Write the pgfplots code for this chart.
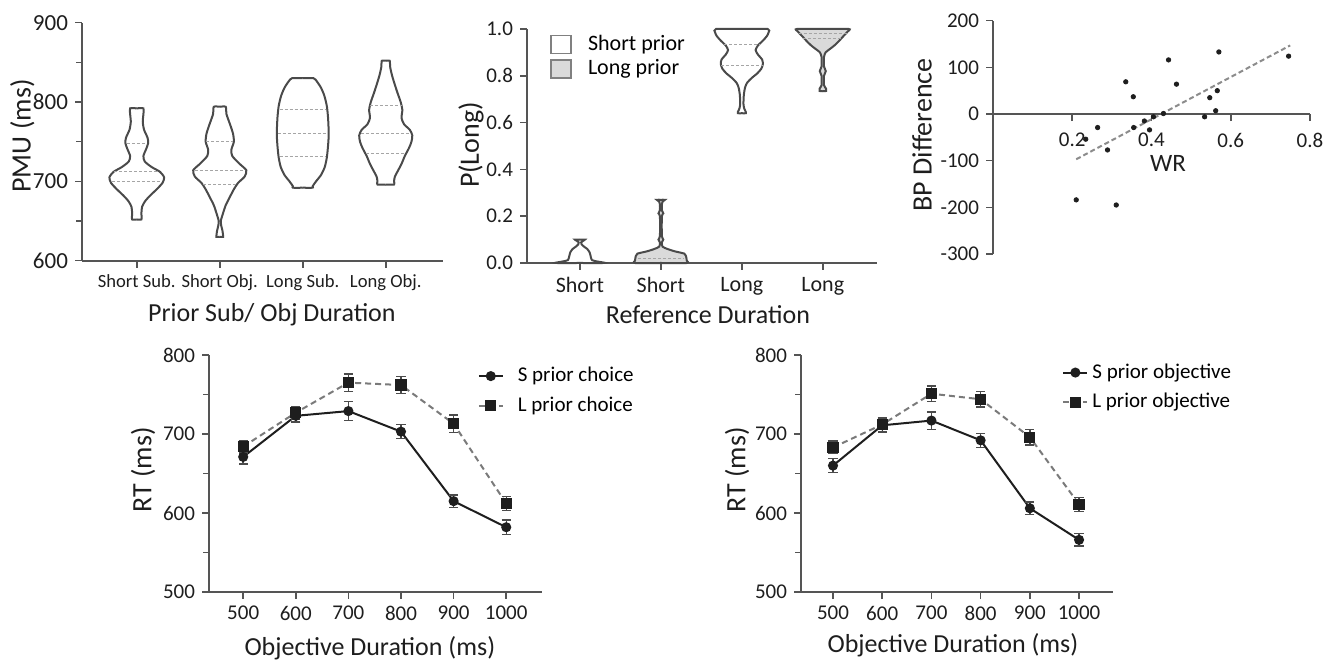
\documentclass[border=0pt]{standalone}
\usepackage{fontspec}
\setmainfont{Carlito}
\usepackage{pgfplots}
\usepackage{pgfplotstable}
\pgfplotsset{compat=1.18}
\usepgfplotslibrary{fillbetween}
\definecolor{axgray}{HTML}{555555}
\definecolor{vline}{HTML}{4A4A4A}
\definecolor{qline}{HTML}{A5A5A5}
\definecolor{vfill}{HTML}{DADADA}
\definecolor{ink}{HTML}{1E1E1E}
\definecolor{fitgray}{HTML}{8C8C8C}
\definecolor{lgray}{HTML}{7A7A7A}

\pgfplotsset{
  panel/.style={
    scale only axis, anchor=south west,
    axis lines=left, axis line style={draw=axgray, line width=1pt, -},
    tick align=outside, major tick length=3.5pt, minor tick length=3pt,
    tick style={draw=axgray, line width=0.8pt},
    /pgf/number format/assume math mode=true,
    /pgf/number format/1000 sep={},
    ticklabel style={font=\fontsize{10.5}{12}\selectfont, color=ink},
    label style={font=\fontsize{14}{16}\selectfont, color=ink},
    clip=false,
  },
  violin/.style={draw=vline, line width=1pt, smooth, tension=0.4, no markers},
  quart/.style={draw=qline, dash pattern=on 1.5pt off 1pt, line width=0.6pt, no markers},
  sline/.style={draw=ink, line width=1pt, mark=*, mark size=2pt, mark options={fill=ink},
    error bars/.cd, y dir=both, y explicit,
    error bar style={draw=ink!80, line width=0.7pt},
    error mark options={rotate=90, mark size=2.3pt, line width=0.7pt, draw=ink!80}},
  lline/.style={draw=lgray, line width=1pt, dash pattern=on 3pt off 2pt, mark=square*, mark size=2.3pt,
    mark options={solid, fill=ink, draw=ink},
    error bars/.cd, y dir=both, y explicit,
    error bar style={draw=ink!80, line width=0.7pt, solid},
    error mark options={rotate=90, mark size=2.3pt, line width=0.7pt, draw=ink!80, solid}},
}

% panel 1 violin profiles: y, half width (category units)
\pgfplotstableread{
y w
792 0
792 0.08
785 0.08
775 0.072
765 0.088
755 0.13
748 0.137
740 0.11
732 0.08
725 0.096
718 0.18
712 0.28
705 0.33
698 0.31
690 0.24
682 0.16
675 0.1
668 0.064
660 0.056
652 0.056
652 0
}\vA
\pgfplotstableread{
y w
794 0
794 0.072
785 0.08
770 0.13
760 0.16
750 0.17
740 0.14
732 0.15
722 0.24
714 0.32
706 0.3
698 0.22
690 0.17
680 0.12
670 0.072
660 0.04
650 0.012
645 0.016
638 0.032
632 0.04
630 0.04
630 0
}\vB
\pgfplotstableread{
y w
830 0
830 0.13
826 0.17
818 0.22
808 0.26
795 0.29
780 0.305
760 0.313
745 0.305
730 0.29
718 0.265
708 0.22
700 0.16
694 0.12
692 0.12
692 0
}\vC
\pgfplotstableread{
y w
852 0
852 0.048
845 0.052
835 0.072
825 0.1
812 0.14
800 0.18
790 0.2
780 0.19
772 0.22
765 0.29
758 0.32
750 0.31
742 0.28
732 0.23
722 0.19
714 0.15
706 0.11
700 0.1
696 0.1
696 0
}\vD

% panel 2 violin profiles
\pgfplotstableread{
y w
0.100 0
0.100 0.062
0.095 0.04
0.088 0.015
0.080 0.02
0.070 0.05
0.060 0.09
0.045 0.12
0.025 0.135
0.012 0.15
0.006 0.22
0.002 0.29
0.000 0.29
0.000 0
}\pA
\pgfplotstableread{
y w
0.270 0
0.270 0.05
0.262 0.02
0.250 0.012
0.225 0.012
0.212 0.03
0.200 0.012
0.115 0.012
0.100 0.03
0.088 0.012
0.070 0.02
0.060 0.08
0.050 0.17
0.040 0.29
0.030 0.31
0.010 0.32
0.000 0.32
0.000 0
}\pB
\pgfplotstableread{
y w
1.000 0
1.000 0.32
0.985 0.33
0.970 0.31
0.950 0.26
0.930 0.2
0.910 0.17
0.890 0.2
0.870 0.25
0.850 0.26
0.830 0.24
0.810 0.19
0.790 0.12
0.770 0.065
0.750 0.04
0.720 0.025
0.680 0.02
0.660 0.03
0.645 0.05
0.640 0.05
0.640 0
}\pC
\pgfplotstableread{
y w
1.000 0
1.000 0.32
0.990 0.31
0.975 0.27
0.960 0.23
0.945 0.19
0.930 0.145
0.915 0.09
0.900 0.035
0.880 0.015
0.840 0.015
0.820 0.037
0.800 0.015
0.760 0.015
0.745 0.04
0.735 0.04
0.735 0
}\pD

% panel 3 scatter
\pgfplotstableread{
x y
0.335 69
0.354 37
0.443 116
0.463 64
0.570 133
0.746 124
0.566 50
0.547 35
0.562 7
0.534 -6
0.430 1
0.382 -15
0.405 -6
0.395 -34
0.355 -29
0.264 -29
0.234 -54
0.289 -77
0.210 -184
0.311 -195
}\scatdata

% panels 4 and 5
\pgfplotstableread{
x y e
500 671 9
600 723 8
700 729 12
800 703 9
900 615 8
1000 582 9
}\Schoice
\pgfplotstableread{
x y e
500 684 8
600 727 8
700 765 11
800 762 11
900 713 11
1000 612 9
}\Lchoice
\pgfplotstableread{
x y e
500 660 9
600 711 9
700 717 11
800 692 9
900 606 8
1000 566 8
}\Sobj
\pgfplotstableread{
x y e
500 683 8
600 712 9
700 751 10
800 744 10
900 696 10
1000 611 9
}\Lobj

\begin{document}
\begin{tikzpicture}

% ---- panel 1
\begin{axis}[panel, at={(41pt,201.15pt)}, width=180.5pt, height=119pt,
  xmin=0.34, xmax=4.69, ymin=600, ymax=900,
  ytick={600,700,800,900}, minor ytick={650,750,850},
  xtick={1,2,3,4}, xticklabels={Short Sub.,Short Obj.,Long Sub.,Long Obj.},
  xticklabel style={font=\fontsize{9.3}{11}\selectfont},
  yticklabel style={font=\fontsize{11.5}{13}\selectfont},
  ylabel={PMU (ms)}, xlabel={Prior Sub/ Obj Duration},
  ylabel style={at={(axis description cs:-0.165,0.524)}, anchor=center},
  xlabel style={at={(axis description cs:0.526,-0.228)}, anchor=center, font=\fontsize{13}{15}\selectfont}]
\addplot[violin] table[x expr=1+\thisrow{w}, y=y]{\vA};
\addplot[violin] table[x expr=1-\thisrow{w}, y=y]{\vA};
\addplot[violin] table[x expr=2+\thisrow{w}, y=y]{\vB};
\addplot[violin] table[x expr=2-\thisrow{w}, y=y]{\vB};
\addplot[violin] table[x expr=3+\thisrow{w}, y=y]{\vC};
\addplot[violin] table[x expr=3-\thisrow{w}, y=y]{\vC};
\addplot[violin] table[x expr=4+\thisrow{w}, y=y]{\vD};
\addplot[violin] table[x expr=4-\thisrow{w}, y=y]{\vD};
\addplot[quart] coordinates {(0.88,748) (1.12,748)};
\addplot[quart] coordinates {(0.73,712) (1.27,712)};
\addplot[quart] coordinates {(0.70,700) (1.30,700)};
\addplot[quart] coordinates {(1.84,750) (2.16,750)};
\addplot[quart] coordinates {(1.70,714) (2.30,714)};
\addplot[quart] coordinates {(1.80,696) (2.20,696)};
\addplot[quart] coordinates {(2.72,791) (3.28,791)};
\addplot[quart] coordinates {(2.70,760) (3.30,760)};
\addplot[quart] coordinates {(2.72,731) (3.28,731)};
\addplot[quart] coordinates {(3.81,796) (4.19,796)};
\addplot[quart] coordinates {(3.70,760) (4.30,760)};
\addplot[quart] coordinates {(3.76,735) (4.24,735)};
\end{axis}

% ---- panel 2
\begin{axis}[panel, set layers, at={(263.5pt,200pt)}, width=175pt, height=117pt,
  xmin=0.346, xmax=4.67, ymin=0, ymax=1,
  ytick={0,0.2,0.4,0.6,0.8,1.0},
  yticklabel style={/pgf/number format/.cd, fixed, fixed zerofill, precision=1},
  xtick={1,2,3,4}, xticklabels={Short,Short,Long,Long},
  xticklabel style={font=\fontsize{11}{13}\selectfont},
  ylabel={P(Long)}, xlabel={Reference Duration},
  ylabel style={at={(axis description cs:-0.16,0.504)}, anchor=center},
  xlabel style={at={(axis description cs:0.517,-0.222)}, anchor=center, font=\fontsize{13}{15}\selectfont},
  legend style={at={(axis description cs:0.06,1.0)}, anchor=north west, draw=none, fill=none,
    font=\fontsize{11}{13}\selectfont, row sep=-1pt, column sep=6pt, inner sep=1pt},
  legend cell align=left,
  legend image code/.code={\draw[#1] (0pt,-4.5pt) rectangle (10pt,4.5pt);}]
\addlegendimage{draw=vline!70, line width=0.8pt, fill=white}
\addlegendentry{Short prior}
\addlegendimage{draw=vline!70, line width=0.8pt, fill=vfill}
\addlegendentry{Long prior}
\addplot[violin] table[x expr=1+\thisrow{w}, y=y]{\pA};
\addplot[violin] table[x expr=1-\thisrow{w}, y=y]{\pA};
\addplot[violin, name path=bR] table[x expr=2+\thisrow{w}, y=y]{\pB};
\addplot[violin, name path=bL] table[x expr=2-\thisrow{w}, y=y]{\pB};
\addplot[fill=vfill] fill between[of=bR and bL];
\addplot[violin] table[x expr=3+\thisrow{w}, y=y]{\pC};
\addplot[violin] table[x expr=3-\thisrow{w}, y=y]{\pC};
\addplot[violin, name path=dR] table[x expr=4+\thisrow{w}, y=y]{\pD};
\addplot[violin, name path=dL] table[x expr=4-\thisrow{w}, y=y]{\pD};
\addplot[fill=vfill] fill between[of=dR and dL];
\addplot[quart] coordinates {(1.72,0.018) (2.28,0.018)};
\addplot[quart] coordinates {(2.78,0.935) (3.22,0.935)};
\addplot[quart] coordinates {(2.74,0.845) (3.26,0.845)};
\addplot[quart] coordinates {(3.70,0.982) (4.30,0.982)};
\addplot[quart] coordinates {(3.76,0.958) (4.24,0.958)};
\end{axis}

% ---- panel 3
\begin{axis}[panel, at={(496.5pt,204.5pt)}, width=158.5pt, height=116.65pt,
  axis x line*=middle, axis y line*=left,
  xmin=0, xmax=0.8, ymin=-300, ymax=200,
  xtick={0.2,0.4,0.6,0.8}, ytick={-300,-200,-100,0,100,200},
  xticklabel style={yshift=-2.5pt},
  ylabel={BP Difference}, xlabel={WR},
  ylabel style={at={(axis description cs:-0.224,0.51)}, anchor=center},
  xlabel style={at={(axis description cs:0.552,0.39)}, anchor=center, font=\fontsize{12.5}{15}\selectfont}]
\addplot[fitgray, line width=1pt, dash pattern=on 2.5pt off 1.5pt] coordinates {(0.21,-97) (0.75,147)};
\addplot[only marks, mark=*, mark size=1.1pt, mark options={fill=ink, draw=ink}] table[x=x, y=y]{\scatdata};
\end{axis}

% ---- panel 4
\begin{axis}[panel, at={(104.5pt,35.5pt)}, width=166.5pt, height=118.5pt,
  xmin=435, xmax=1068, ymin=500, ymax=800,
  xtick={500,600,...,1000}, ytick={500,600,700,800}, minor ytick={550,650,750},
  ylabel={RT (ms)}, xlabel={Objective Duration (ms)},
  ylabel style={at={(axis description cs:-0.198,0.515)}, anchor=center},
  xlabel style={at={(axis description cs:0.483,-0.236)}, anchor=center, font=\fontsize{13}{15}\selectfont},
  legend style={at={(axis description cs:0.80,0.975)}, anchor=north west, draw=none, fill=none,
    font=\fontsize{10.5}{12.5}\selectfont, row sep=2pt, column sep=5pt, inner sep=1pt},
  legend cell align=left,
  legend image code/.code={\draw[mark repeat=2,mark phase=2,#1] plot coordinates {(0pt,0pt) (6pt,0pt) (12pt,0pt)};}]
\addplot[sline] table[x=x, y=y, y error=e]{\Schoice};
\addlegendentry{S prior choice}
\addplot[lline] table[x=x, y=y, y error=e]{\Lchoice};
\addlegendentry{L prior choice}
\end{axis}

% ---- panel 5
\begin{axis}[panel, at={(400.5pt,35.5pt)}, width=156pt, height=118.5pt,
  xmin=435, xmax=1069, ymin=500, ymax=800,
  xtick={500,600,...,1000}, ytick={500,600,700,800}, minor ytick={550,650,750},
  ylabel={RT (ms)}, xlabel={Objective Duration (ms)},
  ylabel style={at={(axis description cs:-0.205,0.515)}, anchor=center},
  xlabel style={at={(axis description cs:0.487,-0.224)}, anchor=center, font=\fontsize{13}{15}\selectfont},
  legend style={at={(axis description cs:0.83,0.99)}, anchor=north west, draw=none, fill=none,
    font=\fontsize{10.5}{12.5}\selectfont, row sep=2pt, inner sep=1pt},
  legend cell align=left,
  legend image code/.code={\draw[mark repeat=2,mark phase=2,#1] plot coordinates {(0pt,0pt) (6pt,0pt) (12pt,0pt)};}]
\addplot[sline] table[x=x, y=y, y error=e]{\Sobj};
\addlegendentry{S prior objective}
\addplot[lline] table[x=x, y=y, y error=e]{\Lobj};
\addlegendentry{L prior objective}
\end{axis}

\pgfresetboundingbox
\path (0,0) rectangle (668.5pt,331.5pt);
\end{tikzpicture}
\end{document}
